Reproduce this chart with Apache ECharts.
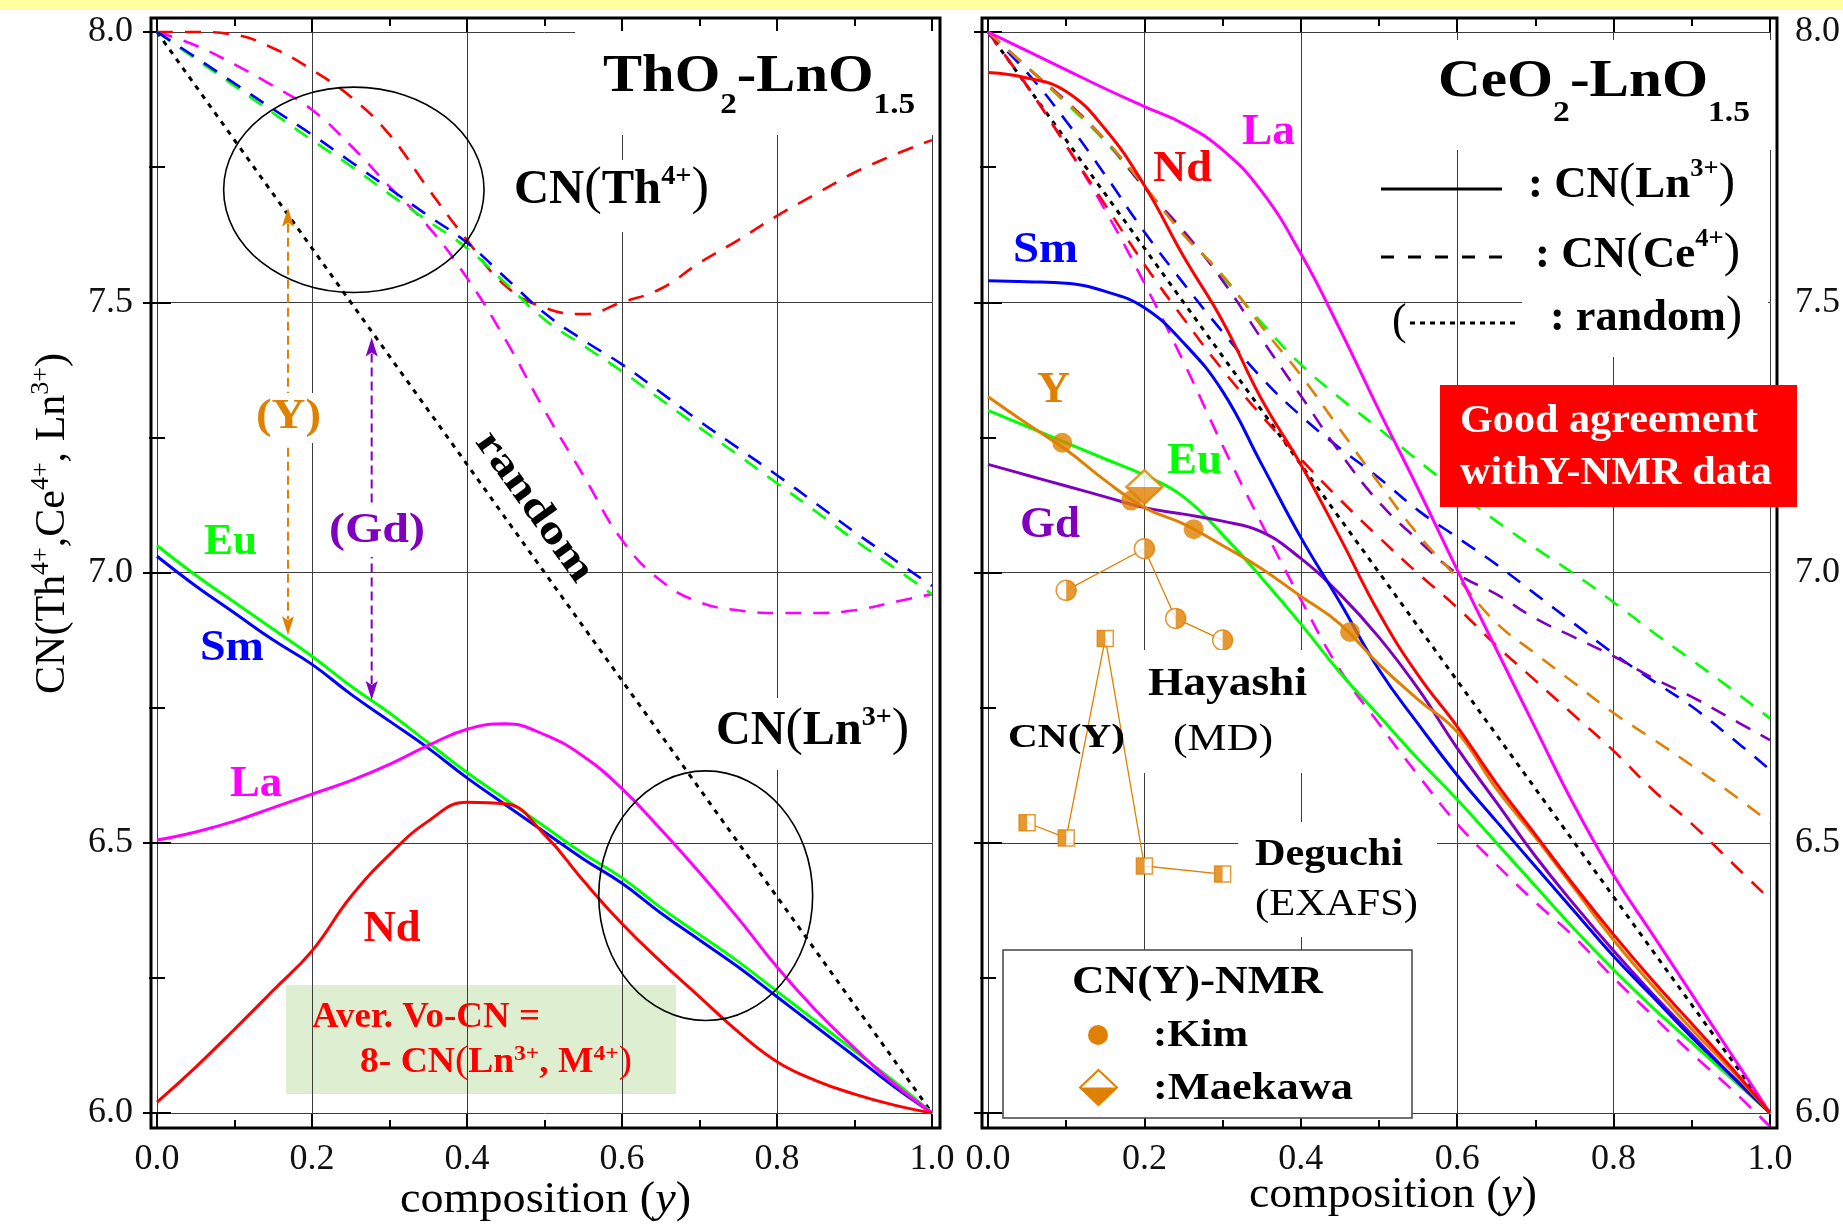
<!DOCTYPE html>
<html>
<head>
<meta charset="utf-8">
<title>CN(Ln3+, M4+) vs composition</title>
<script src="https://cdn.jsdelivr.net/npm/echarts@6.0.0/dist/echarts.min.js"></script>
<style>
html, body { margin: 0; padding: 0; background: #fff; }
#chart { width: 1843px; height: 1225px; }
</style>
</head>
<body>
<div id="chart"></div>
<script>
// composition y, sampled every 0.05
const composition = [0, 0.05, 0.1, 0.15, 0.2, 0.25, 0.3, 0.35, 0.4, 0.45, 0.5, 0.55, 0.6, 0.65, 0.7, 0.75, 0.8, 0.85, 0.9, 0.95, 1.0];
const xTickLabels = ['0.0', '0.2', '0.4', '0.6', '0.8', '1.0'];
const yTickLabels = ['6.0', '6.5', '7.0', '7.5', '8.0'];

// ThO2-LnO1.5 : CN(Ln3+)
const thoLa = [6.505, 6.52, 6.54, 6.565, 6.59, 6.615, 6.645, 6.68, 6.71, 6.72, 6.70, 6.66, 6.60, 6.525, 6.445, 6.36, 6.27, 6.19, 6.12, 6.055, 6.0];
const thoNd = [6.02, 6.085, 6.155, 6.227, 6.30, 6.40, 6.478, 6.54, 6.575, 6.572, 6.515, 6.43, 6.35, 6.28, 6.215, 6.15, 6.095, 6.06, 6.035, 6.015, 6.0];
const thoSm = [7.03, 6.975, 6.925, 6.875, 6.83, 6.775, 6.725, 6.675, 6.62, 6.57, 6.52, 6.47, 6.425, 6.37, 6.32, 6.27, 6.215, 6.16, 6.105, 6.05, 6.0];
const thoEu = [7.05, 6.995, 6.945, 6.895, 6.845, 6.79, 6.74, 6.685, 6.63, 6.58, 6.53, 6.48, 6.435, 6.38, 6.33, 6.28, 6.225, 6.17, 6.115, 6.06, 6.0];
// ThO2-LnO1.5 : CN(Th4+)
const thoThLa = [8.0, 7.975, 7.94, 7.90, 7.856, 7.79, 7.714, 7.64, 7.545, 7.43, 7.30, 7.18, 7.06, 6.985, 6.945, 6.93, 6.925, 6.925, 6.93, 6.945, 6.96];
const thoThNd = [8.0, 8.0, 7.995, 7.97, 7.93, 7.88, 7.81, 7.71, 7.615, 7.53, 7.49, 7.478, 7.50, 7.525, 7.573, 7.615, 7.66, 7.70, 7.74, 7.772, 7.80];
const thoThSm = [8.0, 7.953, 7.905, 7.857, 7.81, 7.76, 7.71, 7.66, 7.61, 7.545, 7.48, 7.43, 7.385, 7.333, 7.28, 7.23, 7.18, 7.128, 7.075, 7.025, 6.975];
const thoThEu = [8.0, 7.95, 7.90, 7.85, 7.80, 7.752, 7.70, 7.65, 7.60, 7.535, 7.468, 7.42, 7.372, 7.32, 7.268, 7.217, 7.165, 7.113, 7.06, 7.01, 6.96];

// CeO2-LnO1.5 : CN(Ln3+)
const ceoLa = [8.0, 7.965, 7.93, 7.895, 7.862, 7.83, 7.782, 7.705, 7.59, 7.45, 7.30, 7.155, 7.005, 6.858, 6.712, 6.568, 6.44, 6.33, 6.22, 6.11, 6.0];
const ceoNd = [7.925, 7.915, 7.89, 7.82, 7.716, 7.585, 7.465, 7.32, 7.20, 7.065, 6.925, 6.81, 6.715, 6.61, 6.515, 6.42, 6.33, 6.245, 6.165, 6.085, 6.0];
const ceoSm = [7.54, 7.538, 7.535, 7.52, 7.49, 7.425, 7.335, 7.20, 7.065, 6.945, 6.82, 6.72, 6.625, 6.54, 6.456, 6.373, 6.29, 6.215, 6.14, 6.07, 6.0];
const ceoEu = [7.30, 7.27, 7.24, 7.21, 7.18, 7.14, 7.07, 6.99, 6.905, 6.815, 6.735, 6.655, 6.58, 6.50, 6.42, 6.34, 6.265, 6.195, 6.13, 6.065, 6.0];
const ceoGd = [7.20, 7.18, 7.16, 7.14, 7.12, 7.108, 7.095, 7.075, 7.026, 6.96, 6.88, 6.785, 6.675, 6.575, 6.475, 6.385, 6.30, 6.22, 6.145, 6.07, 6.0];
const ceoY = [7.325, 7.275, 7.227, 7.17, 7.12, 7.09, 7.05, 7.007, 6.956, 6.905, 6.83, 6.765, 6.705, 6.60, 6.51, 6.415, 6.32, 6.235, 6.155, 6.08, 6.0];
// CeO2-LnO1.5 : CN(Ce4+)
const ceoCeLa = [8.0, 7.90, 7.79, 7.67, 7.535, 7.39, 7.235, 7.09, 6.95, 6.82, 6.72, 6.625, 6.535, 6.46, 6.39, 6.325, 6.25, 6.18, 6.11, 6.045, 5.975];
const ceoCeNd = [8.0, 7.90, 7.79, 7.68, 7.57, 7.47, 7.375, 7.29, 7.21, 7.135, 7.065, 6.998, 6.935, 6.865, 6.80, 6.735, 6.67, 6.598, 6.535, 6.465, 6.395];
const ceoCeSm = [8.0, 7.925, 7.835, 7.735, 7.63, 7.535, 7.445, 7.36, 7.29, 7.23, 7.175, 7.115, 7.065, 7.015, 6.96, 6.905, 6.85, 6.80, 6.752, 6.695, 6.635];
const ceoCeEu = [8.0, 7.935, 7.868, 7.797, 7.712, 7.628, 7.547, 7.462, 7.385, 7.323, 7.266, 7.207, 7.15, 7.095, 7.045, 6.997, 6.945, 6.89, 6.838, 6.785, 6.73];
const ceoCeGd = [8.0, 7.935, 7.872, 7.80, 7.712, 7.632, 7.54, 7.432, 7.327, 7.222, 7.13, 7.06, 6.998, 6.96, 6.915, 6.88, 6.845, 6.805, 6.77, 6.73, 6.69];
const ceoCeY = [8.0, 7.935, 7.87, 7.80, 7.715, 7.625, 7.55, 7.455, 7.365, 7.265, 7.165, 7.07, 6.99, 6.907, 6.85, 6.795, 6.74, 6.692, 6.643, 6.592, 6.537];

// random cation distribution
const randomX = [0, 1];
const randomCN = [8, 6];

// CN(Y) in CeO2-YO1.5
const kimX = [0.095, 0.183, 0.263, 0.463];
const kimCN = [7.24, 7.133, 7.08, 6.89];
const maekawaX = [0.2];
const maekawaCN = [7.158];
const hayashiX = [0.1, 0.2, 0.24, 0.3];
const hayashiCN = [6.967, 7.044, 6.915, 6.875];
const deguchiX = [0.05, 0.1, 0.15, 0.2, 0.3];
const deguchiCN = [6.537, 6.509, 6.878, 6.457, 6.442];

const FONT = '"Liberation Serif", "Times New Roman", serif';
const C = { La: '#FF00FF', Nd: '#FF0000', Sm: '#0000FF', Eu: '#00FF00', Gd: '#8000C0', Y: '#E08000' };

const pairs = (xs, ys) => xs.map((x, i) => [x, ys[i]]);

function curve(g, ys, color, kind, z) {
  return {
    type: 'line', xAxisIndex: 2 * g, yAxisIndex: 2 * g,
    data: pairs(composition, ys), smooth: 0.45,
    symbol: 'none', clip: false, silent: true, z: z || 3,
    lineStyle: { color: color, width: kind === 'solid' ? 3 : 2.6, type: kind === 'solid' ? 'solid' : [16, 12] }
  };
}
function randomLine(g) {
  return {
    type: 'line', xAxisIndex: 2 * g, yAxisIndex: 2 * g, data: pairs(randomX, randomCN),
    symbol: 'none', silent: true, z: 3, lineStyle: { color: '#000', width: 3, type: [5, 6] }
  };
}
function marks(g, xs, ys, symbol, size, offset, style) {
  return {
    type: 'scatter', xAxisIndex: 2 * g, yAxisIndex: 2 * g, data: pairs(xs, ys),
    symbol: symbol, symbolSize: size, symbolOffset: offset, itemStyle: style, silent: true, z: 12
  };
}
function connector(g, xs, ys) {
  return {
    type: 'line', xAxisIndex: 2 * g, yAxisIndex: 2 * g, data: pairs(xs, ys), symbol: 'none',
    silent: true, z: 11, lineStyle: { color: C.Y, width: 1.3 }
  };
}

function xAxisCfg(g, pos) {
  const bottom = pos === 'bottom';
  return {
    type: 'value', gridIndex: g, position: pos, offset: bottom ? 15 : 14,
    min: 0, max: 1, interval: 0.2,
    axisLine: { show: false },
    axisTick: { show: true, inside: true, length: 14, lineStyle: { color: '#000', width: 2 } },
    minorTick: { show: true, splitNumber: 2, length: 8, lineStyle: { color: '#000', width: 2 } },
    axisLabel: {
      show: bottom, margin: 14, fontSize: 36, fontFamily: FONT, color: '#111',
      showMinLabel: true, showMaxLabel: true,
      formatter: v => xTickLabels[Math.round(v / 0.2)]
    },
    splitLine: { show: bottom, lineStyle: { color: '#3c3c3c', width: 1 } }
  };
}
function yAxisCfg(g, pos, labels, off, grid) {
  return {
    type: 'value', gridIndex: g, position: pos, offset: off,
    min: 6, max: 8, interval: 0.5,
    axisLine: { show: false },
    axisTick: { show: true, inside: true, length: 14, lineStyle: { color: '#000', width: 2 } },
    minorTick: { show: true, splitNumber: 2, length: 8, lineStyle: { color: '#000', width: 2 } },
    axisLabel: {
      show: labels, margin: 18, fontSize: 36, fontFamily: FONT, color: '#111',
      showMinLabel: true, showMaxLabel: true,
      formatter: v => yTickLabels[Math.round((v - 6) / 0.5)]
    },
    splitLine: { show: grid, lineStyle: { color: '#3c3c3c', width: 1 } }
  };
}

const HALF_RIGHT_CIRCLE = 'path://M0,0 A10,10 0 0 1 0,20 Z';
const LOWER_HALF_DIAMOND = 'path://M0,0 L20,0 L10,10 Z';

const option = {
  animation: false,
  backgroundColor: '#fff',
  grid: [
    { left: 157, top: 32, width: 775, height: 1081 },
    { left: 988, top: 32, width: 785, height: 1081 }
  ],
  xAxis: [xAxisCfg(0, 'bottom'), xAxisCfg(0, 'top'), xAxisCfg(1, 'bottom'), xAxisCfg(1, 'top')],
  yAxis: [
    yAxisCfg(0, 'left', true, 6, true), yAxisCfg(0, 'right', false, 8, false),
    yAxisCfg(1, 'left', false, 6, true), yAxisCfg(1, 'right', true, 7, false)
  ],
  series: [
    // ThO2-LnO1.5
    randomLine(0),
    curve(0, thoThLa, C.La, 'dash'),
    curve(0, thoThNd, C.Nd, 'dash'),
    curve(0, thoThEu, C.Eu, 'dash'),
    curve(0, thoThSm, C.Sm, 'dash'),
    curve(0, thoSm, C.Sm, 'solid', 5),
    curve(0, thoEu, C.Eu, 'solid', 5),
    curve(0, thoLa, C.La, 'solid', 5),
    curve(0, thoNd, C.Nd, 'solid', 5),
    // CeO2-LnO1.5
    randomLine(1),
    curve(1, ceoCeLa, C.La, 'dash'),
    curve(1, ceoCeNd, C.Nd, 'dash'),
    curve(1, ceoCeSm, C.Sm, 'dash'),
    curve(1, ceoCeEu, C.Eu, 'dash'),
    curve(1, ceoCeGd, C.Gd, 'dash'),
    curve(1, ceoCeY, C.Y, 'dash'),
    curve(1, ceoLa, C.La, 'solid', 5),
    curve(1, ceoEu, C.Eu, 'solid', 5),
    curve(1, ceoGd, C.Gd, 'solid', 5),
    curve(1, ceoSm, C.Sm, 'solid', 5),
    curve(1, ceoY, C.Y, 'solid', 5),
    curve(1, ceoNd, C.Nd, 'solid', 5),
    // CN(Y) data
    connector(1, hayashiX, hayashiCN),
    connector(1, deguchiX, deguchiCN),
    marks(1, hayashiX, hayashiCN, 'circle', 20, [0, 0], { color: '#fff', borderColor: C.Y, borderWidth: 1.5 }),
    marks(1, hayashiX, hayashiCN, HALF_RIGHT_CIRCLE, [10, 20], [5, 0], { color: C.Y }),
    marks(1, deguchiX, deguchiCN, 'rect', 16, [0, 0], { color: '#fff', borderColor: C.Y, borderWidth: 1.5 }),
    marks(1, deguchiX, deguchiCN, 'rect', [8, 16], [-4, 0], { color: C.Y }),
    marks(1, kimX, kimCN, 'circle', 20, [0, 0], { color: C.Y }),
    marks(1, maekawaX, maekawaCN, 'diamond', [36, 34], [0, 0], { color: '#fff', borderColor: C.Y, borderWidth: 2.5 }),
    marks(1, maekawaX, maekawaCN, LOWER_HALF_DIAMOND, [36, 17], [0, 8.5], { color: C.Y })
  ]
};

const chart = echarts.init(document.getElementById('chart'), null, { renderer: 'canvas' });
chart.setOption(option);

// ---------- annotations ----------
const mctx = document.createElement('canvas').getContext('2d');
function measure(t, s, b, i) {
  mctx.font = (i ? 'italic ' : '') + (b ? 'bold ' : '') + s + 'px ' + FONT;
  return mctx.measureText(t).width;
}
// a line of text made of parts of different size / offset; y is the baseline
function run(parts, o) {
  const bold = p => (p.b === undefined ? !!o.b : p.b);
  const nat = parts.reduce((s, p) => s + measure(p.t, p.s, bold(p), p.i), 0);
  const sx = o.width ? o.width / nat : 1;
  const total = nat * sx;
  let cx = o.align === 'center' ? -total / 2 : 0;
  const z = o.z || 60;
  const children = parts.map(p => {
    const w = measure(p.t, p.s, bold(p), p.i);
    const el = {
      type: 'text', x: cx, y: (p.dy || 0) - 0.3375 * p.s, scaleX: sx, z: z, silent: true,
      style: {
        text: p.t, fontSize: p.s, fontFamily: FONT, fontWeight: bold(p) ? 'bold' : 'normal',
        fontStyle: p.i ? 'italic' : 'normal', fill: p.c || o.c || '#000', align: 'left', verticalAlign: 'middle'
      }
    };
    cx += w * sx;
    return el;
  });
  return { type: 'group', x: o.x, y: o.y, rotation: o.rot || 0, children: children };
}
// single centred label; (x, y) is the cap centre
function lab(t, x, y, s, c, o) {
  o = o || {};
  const b = o.b === undefined ? true : o.b;
  const sx = o.width ? o.width / measure(t, s, b, false) : 1;
  return {
    type: 'text', x: x, y: y, rotation: o.rot || 0, scaleX: sx, z: 60, silent: true,
    style: { text: t, fontSize: s, fontFamily: FONT, fontWeight: b ? 'bold' : 'normal', fill: c, align: 'center', verticalAlign: 'middle' }
  };
}
function box(x, y, w, h, fill, stroke, z) {
  return {
    type: 'rect', shape: { x: x, y: y, width: w, height: h }, silent: true, z: z === undefined ? 40 : z,
    style: { fill: fill, stroke: stroke || 'none', lineWidth: stroke ? 1.5 : 0 }
  };
}

const px = (g, x, y) => chart.convertToPixel({ gridIndex: g }, [x, y]);

function vArrow(g, x, yTop, yBot, color) {
  const a = px(g, x, yTop), b = px(g, x, yBot);
  const L = 19, W = 6;
  return [
    { type: 'line', shape: { x1: a[0], y1: a[1] + L - 3, x2: b[0], y2: b[1] - L + 3 }, silent: true, z: 20,
      style: { stroke: color, lineWidth: 2, lineDash: [9, 5] } },
    { type: 'polygon', shape: { points: [[a[0], a[1]], [a[0] - W, a[1] + L], [a[0], a[1] + L - 4], [a[0] + W, a[1] + L]] }, silent: true, z: 20, style: { fill: color } },
    { type: 'polygon', shape: { points: [[b[0], b[1]], [b[0] - W, b[1] - L], [b[0], b[1] - L + 4], [b[0] + W, b[1] - L]] }, silent: true, z: 20, style: { fill: color } }
  ];
}
function ring(g, cx, cy, rx, ry) {
  const c = px(g, cx, cy), e = px(g, cx + rx, cy - ry);
  return { type: 'ellipse', shape: { cx: c[0], cy: c[1], rx: e[0] - c[0], ry: c[1] - e[1] }, silent: true, z: 20,
    style: { fill: 'none', stroke: '#000', lineWidth: 1.6 } };
}

const G = [];
G.push(box(0, 0, 1843, 10, '#FFFFA0', null, 1));
// plot frames around both panels
[[0, 6, 8], [1, 6, 7]].forEach(([g, l, r]) => {
  const a = px(g, 0, 8), b = px(g, 1, 6);
  G.push({ type: 'rect', shape: { x: a[0] - l, y: a[1] - 14, width: b[0] - a[0] + l + r, height: b[1] - a[1] + 29 },
    silent: true, z: 30, style: { fill: 'none', stroke: '#000', lineWidth: 3 } });
});

// ----- ThO2-LnO1.5 panel -----
G.push(box(575, 31, 358, 104, '#fff'));
G.push(run([{ t: 'ThO', s: 53 }, { t: '2', s: 30, dy: 20 }, { t: '-LnO', s: 53 }, { t: '1.5', s: 30, dy: 20 }],
  { x: 603, y: 95, width: 312, b: true }));
G.push(box(505, 160, 215, 72, '#fff'));
G.push(run([{ t: 'CN', s: 48 }, { t: '(', s: 52, b: false }, { t: 'Th', s: 48 }, { t: '4+', s: 28, dy: -21 }, { t: ')', s: 52, b: false }],
  { x: 514, y: 207, width: 195, b: true }));
G.push(box(706, 698, 212, 72, '#fff'));
G.push(run([{ t: 'CN', s: 48 }, { t: '(', s: 52, b: false }, { t: 'Ln', s: 48 }, { t: '3+', s: 28, dy: -21 }, { t: ')', s: 52, b: false }],
  { x: 716, y: 748, width: 193, b: true }));
G.push(ring(0, 0.254, 7.708, 0.168, 0.19));
G.push(ring(0, 0.708, 6.402, 0.138, 0.231));
G.push(...vArrow(0, 0.169, 7.675, 6.884, C.Y));
G.push(...vArrow(0, 0.277, 7.435, 6.764, C.Gd));
G.push(box(258, 393, 62, 50, '#fff', null, 41));
G.push(lab('(Y)', 288.5, 417, 42, C.Y, { width: 65 }));
G.push(box(331, 507, 92, 50, '#fff', null, 41));
G.push(lab('(Gd)', 377, 531, 42, C.Gd, { width: 96 }));
G.push(lab('Eu', 230.5, 543, 44, C.Eu, { width: 53 }));
G.push(lab('Sm', 232, 649, 44, C.Sm, { width: 64 }));
G.push(lab('La', 256, 785, 44, C.La, { width: 52 }));
G.push(lab('Nd', 392, 930, 44, C.Nd, { width: 57 }));
G.push(lab('random', 534, 507, 40, '#000', { width: 176, rot: -0.95 }));
G.push(box(286, 985, 390, 109, '#DDEFD0', null, -1));
G.push(run([{ t: 'Aver. Vo-CN =', s: 35 }], { x: 312, y: 1030, width: 228, b: true, c: '#FF0000' }));
G.push(run([{ t: '8- CN', s: 35 }, { t: '(', s: 37, b: false }, { t: 'Ln', s: 35 }, { t: '3+', s: 22, dy: -13 }, { t: ', M', s: 35 },
  { t: '4+', s: 22, dy: -13 }, { t: ')', s: 37, b: false }], { x: 360, y: 1075, width: 272, b: true, c: '#FF0000' }));

// ----- CeO2-LnO1.5 panel -----
G.push(box(1395, 40, 378, 110, '#fff'));
G.push(run([{ t: 'CeO', s: 53 }, { t: '2', s: 30, dy: 23 }, { t: '-LnO', s: 53 }, { t: '1.5', s: 30, dy: 23 }],
  { x: 1438, y: 100, width: 312, b: true }));
G.push(box(1522, 150, 246, 207, '#fff'));
G.push({ type: 'line', shape: { x1: 1381, y1: 189, x2: 1502, y2: 189 }, silent: true, z: 60, style: { stroke: '#000', lineWidth: 3 } });
G.push({ type: 'line', shape: { x1: 1381, y1: 257, x2: 1502, y2: 257 }, silent: true, z: 60, style: { stroke: '#000', lineWidth: 3, lineDash: [13, 14] } });
G.push({ type: 'line', shape: { x1: 1410, y1: 323, x2: 1520, y2: 323 }, silent: true, z: 60, style: { stroke: '#000', lineWidth: 3, lineDash: [5, 5] } });
G.push(run([{ t: ': CN', s: 44 }, { t: '(', s: 48, b: false }, { t: 'Ln', s: 44 }, { t: '3+', s: 26, dy: -22 }, { t: ')', s: 48, b: false }],
  { x: 1528, y: 200, width: 207, b: true }));
G.push(run([{ t: ': CN', s: 44 }, { t: '(', s: 48, b: false }, { t: 'Ce', s: 44 }, { t: '4+', s: 26, dy: -22 }, { t: ')', s: 48, b: false }],
  { x: 1535, y: 270, width: 205, b: true }));
G.push(run([{ t: '(', s: 44, b: false }], { x: 1392, y: 337 }));
G.push(run([{ t: ': random', s: 44 }, { t: ')', s: 48, b: false }], { x: 1550, y: 333, width: 192, b: true }));
G.push(lab('La', 1268.5, 133, 44, C.La, { width: 53 }));
G.push(lab('Nd', 1182.5, 170, 44, C.Nd, { width: 59 }));
G.push(lab('Sm', 1045.5, 251, 44, C.Sm, { width: 65 }));
G.push(lab('Y', 1053.5, 391, 44, C.Y, { width: 33 }));
G.push(lab('Eu', 1194.5, 462, 44, C.Eu, { width: 55 }));
G.push(lab('Gd', 1050, 526, 44, C.Gd, { width: 60 }));
G.push(box(1440, 385, 357, 122, '#FF0000'));
G.push(run([{ t: 'Good agreement', s: 40 }], { x: 1460, y: 435, width: 298, b: true, c: '#fff' }));
G.push(run([{ t: 'withY-NMR data', s: 40 }], { x: 1460, y: 487, width: 312, b: true, c: '#fff' }));
G.push(box(1140, 650, 172, 123, '#fff'));
G.push(lab('Hayashi', 1227.5, 685, 40, '#000', { width: 159 }));
G.push(lab('(MD)', 1223, 740, 38, '#000', { width: 100, b: false }));
G.push(lab('CN(Y)', 1066.5, 738, 34, '#000', { width: 117 }));
G.push(box(1238, 822, 199, 115, '#fff'));
G.push(lab('Deguchi', 1329, 855, 38, '#000', { width: 148 }));
G.push(lab('(EXAFS)', 1336.5, 905, 38, '#000', { width: 163, b: false }));
// CN(Y)-NMR key
G.push(box(1003, 950, 409, 168, '#fff', '#444'));
G.push(lab('CN(Y)-NMR', 1197.5, 983, 40, '#000', { width: 251 }));
G.push({ type: 'circle', shape: { cx: 1098, cy: 1035, r: 10 }, silent: true, z: 60, style: { fill: C.Y } });
G.push(lab(':Kim', 1200.5, 1036, 38, '#000', { width: 95 }));
G.push({ type: 'polygon', shape: { points: [[1098.5, 1070], [1117, 1087.5], [1098.5, 1105], [1080, 1087.5]] }, silent: true, z: 60,
  style: { fill: '#fff', stroke: C.Y, lineWidth: 2 } });
G.push({ type: 'polygon', shape: { points: [[1080, 1087.5], [1117, 1087.5], [1098.5, 1105]] }, silent: true, z: 61, style: { fill: C.Y } });
G.push(lab(':Maekawa', 1253, 1089, 38, '#000', { width: 200 }));

// axis titles
G.push(run([{ t: 'composition (', s: 44 }, { t: 'y', s: 44, i: true }, { t: ')', s: 44 }], { x: 400, y: 1215, width: 291 }));
G.push(run([{ t: 'composition (', s: 44 }, { t: 'y', s: 44, i: true }, { t: ')', s: 44 }], { x: 1249, y: 1210, width: 288 }));
G.push(run([{ t: 'CN(Th', s: 42 }, { t: '4+', s: 26, dy: -17 }, { t: ',Ce', s: 42 }, { t: '4+', s: 26, dy: -17 },
  { t: ', Ln', s: 42 }, { t: '3+', s: 26, dy: -17 }, { t: ')', s: 42 }], { x: 67, y: 694, width: 341, rot: Math.PI / 2 }));

chart.setOption({ graphic: { elements: G } });
</script>
</body>
</html>
